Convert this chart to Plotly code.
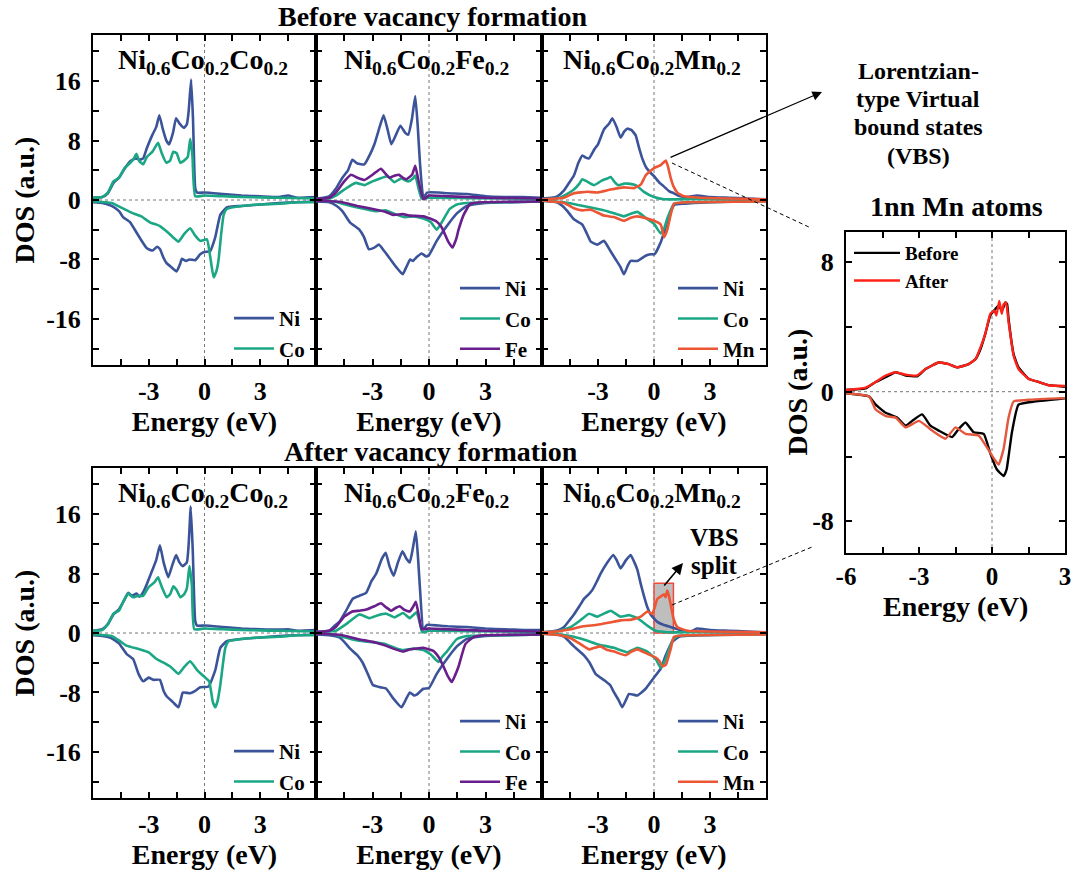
import plotly.graph_objects as go

W, H = 1076, 872
FONT = "Liberation Serif"

# ---------------- tick definitions ----------------
ENERGY_TICKS = [-3, 0, 3]
ENERGY_TICK_TEXT = ["-3", "0", "3"]
ENERGY_MINOR = [-4.5, -1.5, 1.5, 4.5]
DOS_TICKS = [-16, -8, 0, 8, 16]
DOS_TICK_TEXT = ["-16", "-8", "0", "8", "16"]
DOS_MINOR = [-20, -12, -4, 4, 12, 20]
INSET_E_TICKS = [-6, -3, 0, 3]
INSET_E_TEXT = ["-6", "-3", "0", "3"]
INSET_E_MINOR = [-4.5, -1.5, 1.5]
INSET_DOS_TICKS = [-8, 0, 8]
INSET_DOS_TEXT = ["-8", "0", "8"]
INSET_DOS_MINOR = [-4, 4]

COLORS = {"Ni": "#3B5499", "Co": "#1BA784", "Fe": "#6A1E8C", "Mn": "#EC5634"}

# ---------------- projected DOS, (energy eV, DOS) ----------------
# Before vacancy formation: Ni0.6Co0.2Co0.2
B1_NI_UP = [(-6, 0.3), (-5.5, 0.4), (-5.2, 0.9), (-4.9, 2.3), (-4.6, 3.0), (-4.3, 4.2), (-4.0, 5.2), (-3.7, 5.6),
            (-3.5, 5.4), (-3.3, 5.6), (-3.1, 7.0), (-2.8, 8.8), (-2.6, 9.8), (-2.43, 11.4), (-2.25, 9.6), (-2.05, 8.0),
            (-1.9, 7.5), (-1.7, 9.0), (-1.53, 11.0), (-1.35, 10.3), (-1.1, 9.7), (-0.95, 10.2), (-0.85, 12.0),
            (-0.72, 16.2), (-0.62, 11.0), (-0.5, 1.6), (-0.4, 1.0), (0, 1.0), (1, 0.8), (2, 0.6), (3, 0.5), (4, 0.4),
            (4.5, 0.6), (5, 0.3), (6, 0.4)]
B1_CO_UP = [(-6, 0.3), (-5.5, 0.4), (-5.2, 1.0), (-4.9, 2.5), (-4.6, 3.0), (-4.3, 4.3), (-4.0, 5.0), (-3.8, 5.6),
            (-3.66, 6.2), (-3.5, 5.2), (-3.3, 4.8), (-3.1, 5.8), (-2.8, 6.5), (-2.5, 7.7), (-2.3, 6.3), (-2.05, 5.0),
            (-1.85, 5.3), (-1.68, 6.5), (-1.5, 6.3), (-1.3, 5.0), (-1.1, 5.3), (-0.9, 5.8), (-0.77, 8.2), (-0.65, 6.0),
            (-0.5, 0.5), (0, 0.6), (1, 0.5), (2, 0.4), (3, 0.35), (4, 0.3), (6, 0.2)]
B1_NI_DN = [(-6, -0.3), (-5.5, -0.4), (-5, -0.8), (-4.6, -1.5), (-4.38, -2.3), (-4.0, -3.0), (-3.7, -4.2),
            (-3.48, -5.1), (-3.1, -6.5), (-2.8, -6.8), (-2.55, -6.3), (-2.4, -6.6), (-2.2, -7.8), (-2.04, -8.5),
            (-1.8, -9.0), (-1.5, -9.6), (-1.3, -8.5), (-1.22, -7.9), (-1.0, -8.2), (-0.8, -8.0), (-0.5, -8.1),
            (-0.23, -7.3), (0, -7.0), (0.3, -6.9), (0.58, -5.0), (0.85, -2.0), (1.2, -1.0), (2, -0.8), (3, -0.6),
            (4, -0.4), (5, -0.3), (6, -0.2)]
B1_CO_DN = [(-6, -0.2), (-5, -0.4), (-4.5, -1.0), (-3.84, -1.8), (-3.4, -2.2), (-2.94, -3.0), (-2.6, -3.3),
            (-2.4, -3.5), (-2.0, -4.3), (-1.7, -5.0), (-1.4, -5.6), (-1.1, -4.6), (-0.77, -3.8), (-0.5, -4.8),
            (-0.23, -5.5), (0.13, -5.3), (0.3, -7.5), (0.49, -10.4), (0.65, -9.5), (0.76, -8.0), (0.9, -4.5),
            (1.03, -2.0), (1.2, -1.2), (2, -0.8), (3, -0.6), (4, -0.5), (5, -0.3), (6, -0.3)]

# Before vacancy formation: Ni0.6Co0.2Fe0.2
B2_NI_UP = [(-6, 0.2), (-5.6, 0.3), (-5.3, 0.5), (-4.95, 1.5), (-4.6, 3.0), (-4.3, 4.0), (-4.07, 5.4), (-3.8, 4.9),
            (-3.43, 4.8), (-3.1, 6.3), (-2.9, 7.5), (-2.6, 10.0), (-2.41, 11.4), (-2.2, 9.5), (-2.0, 7.5),
            (-1.75, 8.8), (-1.52, 10.0), (-1.25, 9.0), (-1.1, 8.8), (-0.9, 11.0), (-0.73, 14.0), (-0.6, 10.0),
            (-0.48, 5.0), (-0.3, 0.3), (-0.1, 1.0), (0.5, 1.0), (1, 0.9), (2, 0.8), (3, 0.5), (4, 0.4), (5, 0.4),
            (6, 0.3)]
B2_CO_UP = [(-6, 0.1), (-5.3, 0.2), (-4.95, 0.6), (-4.5, 1.4), (-3.9, 2.3), (-3.43, 2.0), (-3.0, 2.5), (-2.6, 2.9),
            (-2.2, 3.2), (-1.84, 2.4), (-1.48, 2.9), (-1.1, 2.5), (-0.85, 2.9), (-0.73, 3.3), (-0.55, 1.5),
            (-0.39, 0.2), (0, 0.3), (2, 0.25), (6, 0.15)]
B2_FE_UP = [(-6, 0.1), (-5.3, 0.3), (-4.95, 1.0), (-4.5, 2.5), (-4.14, 3.4), (-3.8, 3.0), (-3.43, 2.7), (-3.0, 3.4),
            (-2.55, 4.2), (-2.3, 3.5), (-2.1, 3.0), (-1.8, 3.3), (-1.6, 3.4), (-1.4, 3.0), (-1.2, 2.8), (-0.9, 3.4),
            (-0.73, 4.6), (-0.55, 2.5), (-0.3, 0.1), (0, 0.6), (1, 0.5), (2, 0.4), (3, 0.3), (6, 0.2)]
B2_NI_DN = [(-6, -0.2), (-5.3, -0.3), (-4.9, -0.8), (-4.6, -1.5), (-4.2, -3.0), (-3.7, -4.0), (-3.45, -5.0),
            (-3.2, -6.6), (-2.9, -6.4), (-2.66, -6.0), (-2.4, -6.8), (-2.1, -7.8), (-1.75, -9.0), (-1.4, -10.0),
            (-1.2, -9.0), (-1.0, -8.0), (-0.85, -8.2), (-0.7, -7.8), (-0.39, -7.2), (-0.15, -7.6), (0, -7.4),
            (0.41, -5.5), (0.95, -3.5), (1.48, -1.8), (2.0, -0.8), (3, -0.4), (4, -0.3), (6, -0.2)]
B2_CO_DN = [(-6, -0.1), (-5, -0.2), (-4.6, -0.5), (-3.8, -1.0), (-2.8, -1.5), (-2.27, -1.4), (-1.8, -1.9),
            (-1.3, -2.3), (-0.8, -2.2), (-0.3, -2.5), (0.1, -3.0), (0.41, -4.0), (0.68, -3.0), (1.1, -1.2),
            (1.48, -0.6), (2, -0.4), (4, -0.3), (6, -0.2)]
B2_FE_DN = [(-6, -0.1), (-5, -0.2), (-4.6, -0.3), (-3.8, -0.8), (-2.8, -1.3), (-2.3, -1.6), (-1.9, -2.0),
            (-1.4, -1.9), (-1.0, -2.1), (-0.3, -2.2), (0.05, -2.5), (0.4, -2.9), (0.68, -3.7), (1.0, -5.5),
            (1.25, -6.4), (1.45, -5.2), (1.57, -4.0), (1.84, -2.0), (2.2, -0.5), (3, -0.3), (6, -0.2)]

# Before vacancy formation: Ni0.6Co0.2Mn0.2
B3_NI_UP = [(-6, 0.2), (-5.5, 0.3), (-5.18, 0.5), (-4.82, 1.3), (-4.5, 2.5), (-4.29, 3.3), (-4.05, 5.0),
            (-3.84, 6.0), (-3.65, 5.7), (-3.48, 5.6), (-3.2, 6.8), (-3.0, 7.5), (-2.68, 9.5), (-2.4, 10.3),
            (-2.23, 11.0), (-2.0, 9.8), (-1.79, 8.4), (-1.6, 9.2), (-1.43, 9.6), (-1.2, 9.4), (-0.98, 8.7),
            (-0.8, 7.0), (-0.63, 5.6), (-0.4, 4.3), (-0.2, 3.7), (0, 3.2), (0.3, 2.3), (0.54, 1.8), (0.8, 1.2),
            (1.07, 0.9), (1.4, 0.5), (1.79, 0.4), (2.3, 0.6), (3, 0.4), (4, 0.3), (5, 0.2), (6, 0.1)]
B3_CO_UP = [(-6, 0.1), (-5.2, 0.2), (-4.82, 0.6), (-4.29, 1.4), (-4.0, 2.2), (-3.84, 2.8), (-3.6, 2.5),
            (-3.21, 2.0), (-2.8, 2.6), (-2.5, 2.9), (-2.32, 3.1), (-2.1, 2.4), (-1.93, 2.0), (-1.6, 2.2),
            (-1.43, 2.2), (-0.98, 2.0), (-0.54, 1.1), (0, 0.4), (0.54, 0.1), (2, 0.1), (6, 0.1)]
B3_MN_UP = [(-6, 0.1), (-5.2, 0.2), (-4.82, 0.3), (-4.29, 0.9), (-3.57, 1.1), (-3.04, 1.0), (-2.32, 1.4),
            (-1.61, 1.7), (-1.07, 1.6), (-0.7, 2.1), (-0.45, 3.3), (0, 4.3), (0.36, 4.7), (0.63, 5.3), (0.75, 4.5),
            (0.89, 3.0), (1.05, 1.8), (1.25, 1.0), (1.6, 0.5), (2.5, 0.3), (4, 0.2), (6, 0.1)]
B3_NI_DN = [(-6, -0.1), (-5.2, -0.3), (-4.9, -0.8), (-4.64, -1.5), (-4.29, -2.6), (-3.84, -3.3), (-3.6, -4.5),
            (-3.39, -5.6), (-3.04, -6.0), (-2.68, -5.5), (-2.35, -6.8), (-2.05, -8.0), (-1.8, -9.0), (-1.61, -10.0),
            (-1.4, -8.8), (-1.25, -8.2), (-0.89, -8.2), (-0.45, -7.5), (-0.18, -7.3), (0.03, -7.3), (0.36, -5.7),
            (0.71, -3.0), (1.07, -0.7), (1.6, -0.5), (3, -0.3), (6, -0.1)]
B3_CO_DN = [(-6, -0.1), (-4.82, -0.3), (-4.2, -0.6), (-3.39, -1.0), (-2.5, -1.5), (-2.0, -1.9), (-1.61, -2.2),
            (-1.3, -1.9), (-0.89, -1.6), (-0.45, -2.4), (0, -3.2), (0.36, -4.5), (0.55, -3.8), (0.71, -2.5),
            (1.07, -0.5), (2, -0.3), (6, -0.2)]
B3_MN_DN = [(-6, -0.1), (-4.82, -0.4), (-4.29, -1.1), (-3.84, -1.4), (-3.39, -1.3), (-2.68, -2.1), (-2.14, -2.3),
            (-1.61, -2.8), (-1.25, -2.4), (-0.89, -2.2), (-0.36, -2.5), (0, -2.8), (0.36, -3.3), (0.54, -5.0),
            (0.71, -4.0), (0.89, -2.0), (1.07, -0.5), (2, -0.3), (6, -0.2)]

# After vacancy formation: Ni0.6Co0.2Co0.2
A1_NI_UP = [(-6, 0.3), (-5.5, 0.5), (-5.2, 1.2), (-4.9, 2.5), (-4.6, 3.2), (-4.3, 4.5), (-4.1, 5.4), (-3.9, 5.0),
            (-3.66, 5.3), (-3.5, 4.9), (-3.3, 5.5), (-3.1, 6.6), (-2.8, 8.5), (-2.6, 9.8), (-2.4, 11.8), (-2.2, 9.5),
            (-1.95, 7.5), (-1.75, 9.0), (-1.53, 10.5), (-1.35, 9.5), (-1.17, 9.0), (-0.95, 9.5), (-0.85, 12.0),
            (-0.74, 17.0), (-0.63, 11.0), (-0.5, 1.6), (-0.4, 1.0), (0, 1.0), (1, 0.8), (2, 0.6), (3, 0.5),
            (4, 0.45), (4.5, 0.5), (5, 0.3), (6, 0.4)]
A1_CO_UP = [(-6, 0.3), (-5.5, 0.4), (-5.2, 1.2), (-4.9, 2.6), (-4.6, 3.0), (-4.3, 4.6), (-4.1, 5.3), (-3.85, 4.8),
            (-3.6, 5.0), (-3.3, 5.0), (-3.0, 6.2), (-2.7, 6.8), (-2.5, 7.5), (-2.3, 6.2), (-2.04, 4.8), (-1.85, 5.2),
            (-1.68, 6.3), (-1.5, 5.8), (-1.3, 4.8), (-1.1, 5.2), (-0.95, 6.0), (-0.81, 9.0), (-0.68, 6.5),
            (-0.55, 0.5), (0, 0.6), (1, 0.5), (2, 0.4), (3, 0.35), (4, 0.3), (6, 0.2)]
A1_NI_DN = [(-6, -0.3), (-5.5, -0.4), (-5, -0.7), (-4.6, -1.4), (-4.2, -2.8), (-3.84, -3.5), (-3.55, -5.5),
            (-3.3, -6.5), (-3.0, -6.0), (-2.76, -6.3), (-2.4, -6.3), (-2.2, -7.8), (-2.04, -8.5), (-1.7, -9.3),
            (-1.4, -10.0), (-1.25, -8.7), (-1.17, -8.0), (-0.77, -8.1), (-0.5, -7.8), (-0.23, -7.3), (0.22, -7.2),
            (0.58, -5.0), (0.85, -2.0), (1.2, -1.1), (2, -0.8), (3, -0.6), (4, -0.4), (5, -0.3), (6, -0.2)]
A1_CO_DN = [(-6, -0.2), (-5, -0.4), (-4.6, -1.0), (-4.2, -1.7), (-3.48, -2.2), (-3.0, -2.6), (-2.58, -3.5),
            (-2.2, -4.0), (-1.8, -4.6), (-1.4, -5.5), (-1.1, -4.6), (-0.77, -3.8), (-0.4, -5.0), (-0.05, -5.8),
            (0.25, -6.5), (0.45, -9.3), (0.58, -10.0), (0.7, -9.2), (0.85, -7.0), (1.0, -4.0), (1.12, -2.0),
            (1.3, -1.1), (2, -0.8), (3, -0.6), (4, -0.5), (5, -0.3), (6, -0.3)]

# After vacancy formation: Ni0.6Co0.2Fe0.2
A2_NI_UP = [(-6, 0.2), (-5.6, 0.2), (-5.3, 0.3), (-5.0, 1.0), (-4.76, 1.5), (-4.4, 3.0), (-4.05, 4.6), (-3.7, 5.0),
            (-3.34, 5.4), (-3.05, 7.0), (-2.8, 8.0), (-2.5, 10.0), (-2.3, 10.8), (-2.1, 9.0), (-1.88, 7.7),
            (-1.65, 9.5), (-1.41, 11.0), (-1.2, 10.0), (-1.02, 9.5), (-0.85, 11.5), (-0.7, 13.7), (-0.58, 10.0),
            (-0.48, 6.0), (-0.3, 0.5), (-0.1, 1.1), (0.5, 1.0), (1, 0.9), (2, 0.8), (3, 0.6), (4, 0.5), (5, 0.4),
            (6, 0.4)]
A2_CO_UP = [(-6, 0.1), (-5.3, 0.2), (-4.95, 0.3), (-4.4, 1.2), (-3.7, 2.5), (-3.16, 2.0), (-2.7, 2.4), (-2.27, 2.6),
            (-1.82, 2.1), (-1.38, 2.7), (-1.02, 2.0), (-0.8, 2.5), (-0.66, 2.8), (-0.5, 1.5), (-0.36, 0.1),
            (0, 0.3), (2, 0.25), (6, 0.15)]
A2_FE_UP = [(-6, 0.1), (-5.3, 0.3), (-4.95, 0.8), (-4.5, 2.2), (-4.07, 2.9), (-3.7, 3.0), (-3.27, 3.2), (-2.9, 3.6),
            (-2.55, 4.0), (-2.3, 3.5), (-2.0, 3.0), (-1.75, 3.4), (-1.55, 3.6), (-1.3, 3.1), (-1.02, 2.9),
            (-0.85, 3.5), (-0.7, 4.2), (-0.55, 2.5), (-0.39, 0.5), (0, 0.6), (1, 0.5), (2, 0.4), (3, 0.3), (6, 0.2)]
A2_NI_DN = [(-6, -0.2), (-5.3, -0.3), (-4.76, -0.6), (-4.5, -1.2), (-4.23, -2.0), (-3.8, -3.0), (-3.52, -4.0),
            (-3.25, -5.5), (-2.98, -7.0), (-2.6, -7.3), (-2.27, -7.5), (-1.9, -8.8), (-1.46, -10.0), (-1.2, -8.8),
            (-1.02, -8.0), (-0.8, -8.4), (-0.66, -8.3), (-0.3, -7.5), (0, -7.4), (0.41, -5.5), (0.95, -3.5),
            (1.48, -1.8), (2.0, -0.8), (3, -0.4), (4, -0.3), (6, -0.2)]
A2_CO_DN = [(-6, -0.1), (-5, -0.2), (-4.6, -0.5), (-3.8, -1.0), (-2.8, -1.3), (-2.3, -1.5), (-1.8, -2.0),
            (-1.38, -2.3), (-0.8, -2.1), (-0.3, -2.3), (0.1, -2.9), (0.5, -3.9), (0.7, -3.2), (0.95, -2.5),
            (1.48, -0.8), (2, -0.4), (4, -0.3), (6, -0.2)]
A2_FE_DN = [(-6, -0.1), (-5, -0.2), (-4.6, -0.3), (-3.8, -0.8), (-2.8, -1.3), (-2.3, -1.7), (-1.9, -2.1),
            (-1.38, -2.5), (-1.0, -2.2), (-0.3, -2.0), (0.23, -2.4), (0.5, -3.2), (0.77, -4.5), (1.0, -5.8),
            (1.21, -6.6), (1.4, -5.6), (1.57, -4.5), (1.93, -1.5), (2.39, -0.5), (3, -0.3), (6, -0.2)]

# After vacancy formation: Ni0.6Co0.2Mn0.2
A3_NI_UP = [(-6, 0.1), (-5.5, 0.2), (-5.1, 0.4), (-4.82, 0.8), (-4.5, 1.8), (-4.29, 2.5), (-4.0, 3.6),
            (-3.75, 4.6), (-3.5, 5.2), (-3.3, 5.8), (-3.05, 7.0), (-2.86, 8.0), (-2.5, 9.5), (-2.18, 10.5),
            (-2.0, 9.8), (-1.79, 8.7), (-1.5, 9.8), (-1.25, 10.5), (-1.05, 9.5), (-0.89, 8.5), (-0.7, 6.5),
            (-0.54, 5.0), (-0.36, 3.5), (-0.18, 2.5), (0.18, 1.5), (0.5, 1.1), (0.89, 0.8), (1.4, 0.4),
            (1.96, 0.2), (2.3, 0.6), (3, 0.4), (4, 0.3), (5, 0.2), (6, 0.1)]
A3_CO_UP = [(-6, 0.1), (-5.2, 0.2), (-4.46, 0.8), (-4.0, 1.6), (-3.48, 2.6), (-3.04, 2.2), (-2.6, 2.7),
            (-2.32, 3.0), (-2.0, 2.5), (-1.79, 2.2), (-1.34, 2.4), (-0.89, 2.0), (-0.36, 1.0), (0.09, 0.3),
            (0.71, 0.1), (2, 0.1), (6, 0.1)]
A3_MN_UP = [(-6, 0.1), (-5.2, 0.2), (-4.46, 0.5), (-3.8, 0.9), (-3.04, 1.1), (-2.4, 1.4), (-1.79, 1.7),
            (-1.2, 1.8), (-0.71, 2.2), (-0.36, 2.9), (-0.09, 2.6), (0.18, 4.6), (0.35, 4.9), (0.54, 5.2),
            (0.62, 4.8), (0.71, 5.7), (0.8, 5.0), (0.89, 3.9), (1.04, 2.0), (1.25, 0.8), (1.79, 0.3), (3, 0.2),
            (6, 0.1)]
A3_NI_DN = [(-6, -0.1), (-5.2, -0.2), (-4.82, -0.5), (-4.29, -1.8), (-3.75, -3.0), (-3.45, -4.0), (-3.13, -5.5),
            (-2.59, -6.5), (-2.35, -7.0), (-2.14, -8.0), (-1.9, -9.0), (-1.7, -10.0), (-1.5, -9.0), (-1.34, -8.2),
            (-1.1, -8.3), (-0.89, -8.4), (-0.45, -7.5), (0, -6.0), (0.36, -4.8), (0.63, -3.0), (0.98, -1.2),
            (1.34, -0.5), (2.5, -0.3), (6, -0.1)]
A3_CO_DN = [(-6, -0.1), (-5, -0.2), (-4.29, -0.5), (-3.6, -1.0), (-3.04, -1.5), (-2.14, -2.0), (-1.8, -2.3),
            (-1.43, -2.6), (-0.89, -2.0), (-0.36, -2.5), (0.09, -3.5), (0.36, -4.7), (0.63, -3.5), (0.98, -1.0),
            (1.25, -0.4), (2, -0.3), (6, -0.2)]
A3_MN_DN = [(-6, -0.1), (-5, -0.3), (-4.46, -0.7), (-3.93, -1.5), (-3.48, -2.2), (-3.2, -2.0), (-2.86, -1.8),
            (-2.5, -2.3), (-2.14, -2.5), (-1.52, -3.0), (-1.2, -2.5), (-0.89, -2.2), (-0.36, -2.8), (0.09, -3.3),
            (0.3, -3.8), (0.45, -4.5), (0.63, -4.3), (0.89, -2.2), (1.07, -0.5), (2, -0.3), (6, -0.2)]

# 1nn Mn atoms, before / after
MN1_BEFORE_UP = [(-6, 0.1), (-5.2, 0.2), (-4.78, 0.6), (-4.37, 0.9), (-3.96, 1.2), (-3.55, 1.0), (-3.07, 0.95),
                 (-2.73, 1.4), (-2.19, 1.8), (-1.78, 1.7), (-1.43, 1.5), (-0.96, 1.7), (-0.68, 2.0), (-0.48, 2.6),
                 (-0.27, 3.6), (-0.07, 4.7), (0.14, 5.1), (0.27, 5.3), (0.41, 5.0), (0.55, 5.5), (0.62, 5.4),
                 (0.68, 4.5), (0.89, 2.3), (1.09, 1.5), (1.5, 0.8), (1.91, 0.6), (2.32, 0.4), (3, 0.3)]
MN1_AFTER_UP = [(-6, 0.1), (-5.2, 0.25), (-4.78, 0.6), (-4.37, 1.0), (-3.96, 1.2), (-3.55, 1.05), (-3.07, 1.0),
                (-2.73, 1.4), (-2.19, 1.8), (-1.78, 1.7), (-1.43, 1.5), (-0.96, 1.7), (-0.68, 2.0), (-0.48, 2.7),
                (-0.27, 3.6), (-0.07, 4.8), (0.1, 5.0), (0.18, 4.7), (0.3, 5.6), (0.4, 4.8), (0.48, 5.4),
                (0.58, 5.5), (0.68, 4.3), (0.89, 2.2), (1.09, 1.4), (1.5, 0.8), (1.91, 0.6), (2.32, 0.4), (3, 0.35)]
MN1_BEFORE_DN = [(-6, -0.1), (-5.05, -0.3), (-4.78, -0.8), (-4.37, -1.3), (-3.89, -1.6), (-3.55, -2.1),
                 (-3.28, -1.8), (-2.87, -1.4), (-2.53, -2.1), (-2.19, -2.4), (-1.64, -2.8), (-1.37, -2.3),
                 (-1.09, -1.9), (-0.75, -2.5), (-0.34, -2.6), (-0.07, -3.8), (0.2, -4.8), (0.48, -5.2),
                 (0.6, -4.8), (0.68, -4.0), (0.82, -2.5), (1.09, -0.8), (1.78, -0.6), (3, -0.4)]
MN1_AFTER_DN = [(-6, -0.1), (-5.05, -0.3), (-4.78, -1.1), (-4.37, -1.5), (-3.96, -1.6), (-3.55, -2.2),
                (-3.0, -1.8), (-2.46, -2.4), (-1.91, -2.9), (-1.5, -2.2), (-1.09, -2.6), (-0.55, -2.7),
                (-0.14, -3.6), (0.27, -4.5), (0.48, -3.5), (0.68, -1.6), (0.89, -0.6), (1.5, -0.5), (3, -0.4)]

# VBS region highlighted in the after-vacancy Mn panel (eV, DOS)
VBS_BOX_E = [0.0, 1.04]
VBS_BOX_DOS = [0.0, 6.7]

PANEL_TITLES = ["Ni<sub>0.6</sub>Co<sub>0.2</sub>Co<sub>0.2</sub>",
                "Ni<sub>0.6</sub>Co<sub>0.2</sub>Fe<sub>0.2</sub>",
                "Ni<sub>0.6</sub>Co<sub>0.2</sub>Mn<sub>0.2</sub>"]

PANELS = [
    [("Ni", B1_NI_UP, B1_NI_DN), ("Co", B1_CO_UP, B1_CO_DN)],
    [("Ni", B2_NI_UP, B2_NI_DN), ("Co", B2_CO_UP, B2_CO_DN), ("Fe", B2_FE_UP, B2_FE_DN)],
    [("Ni", B3_NI_UP, B3_NI_DN), ("Co", B3_CO_UP, B3_CO_DN), ("Mn", B3_MN_UP, B3_MN_DN)],
    [("Ni", A1_NI_UP, A1_NI_DN), ("Co", A1_CO_UP, A1_CO_DN)],
    [("Ni", A2_NI_UP, A2_NI_DN), ("Co", A2_CO_UP, A2_CO_DN), ("Fe", A2_FE_UP, A2_FE_DN)],
    [("Ni", A3_NI_UP, A3_NI_DN), ("Co", A3_CO_UP, A3_CO_DN), ("Mn", A3_MN_UP, A3_MN_DN)],
]

# ---------------- layout geometry (pixels) ----------------
COLS = [(93, 316), (316, 542), (542, 766)]
ROWS = [(35, 365), (468, 798)]
INSET = (846, 1065, 232, 553)


def fx(p):
    return p / W


def fy(p):
    return 1 - p / H


def bold(size, color="black"):
    return dict(family=FONT, size=size, color=color, weight="bold")


def minor_ticks(vals):
    return dict(tickvals=vals, ticks="inside", ticklen=6, tickwidth=2, tickcolor="black", showgrid=False)


fig = go.Figure()
layout = dict(width=W, height=H, margin=dict(l=0, r=0, t=0, b=0, autoexpand=False),
              paper_bgcolor="white", plot_bgcolor="white",
              font=bold(21), showlegend=True)
shapes, annotations = [], []

axis_common = dict(showline=True, linecolor="black", linewidth=2, mirror="ticks", ticks="inside",
                   ticklen=6, tickwidth=2, tickcolor="black", showgrid=False, zeroline=False,
                   tickfont=bold(26), fixedrange=True, automargin=False)
LINE_SHAPE = dict(shape="spline", smoothing=0.4)

for i, curves in enumerate(PANELS):
    k = i + 1
    sfx = "" if k == 1 else str(k)
    row, col = divmod(i, 3)
    x0, x1 = COLS[col]
    y0, y1 = ROWS[row]
    layout["xaxis" + sfx] = dict(axis_common, domain=[fx(x0), fx(x1)], anchor="y" + sfx, range=[-6, 6],
                                 tickvals=ENERGY_TICKS, ticktext=ENERGY_TICK_TEXT,
                                 minor=minor_ticks(ENERGY_MINOR), ticklabelstandoff=2,
                                 title=dict(text="Energy (eV)", font=bold(28), standoff=2))
    ycfg = dict(axis_common, domain=[fy(y1), fy(y0)], anchor="x" + sfx, range=[-22.2, 22.2],
                tickvals=DOS_TICKS, ticktext=DOS_TICK_TEXT, minor=minor_ticks(DOS_MINOR))
    if col == 0:
        ycfg.update(title=dict(text="DOS (a.u.)", font=bold(28), standoff=3), ticklabelstandoff=5)
    else:
        ycfg.update(showticklabels=False)
    layout["yaxis" + sfx] = ycfg

    lname = "legend" + sfx
    for el, up, dn in curves:
        for pts, show in ((up, True), (dn, False)):
            fig.add_trace(go.Scatter(
                x=[p[0] for p in pts], y=[p[1] for p in pts], mode="lines", name=el,
                line=dict(color=COLORS[el], width=2.6, **LINE_SHAPE), xaxis="x" + sfx, yaxis="y" + sfx,
                legend=lname, legendgroup=f"{k}{el}", showlegend=show, hoverinfo="skip"))
    layout[lname] = dict(x=fx(x1 - 6), y=fy(y1 + 4), xanchor="right", yanchor="bottom",
                         bgcolor="rgba(0,0,0,0)", font=bold(21), itemwidth=40, tracegroupgap=0,
                         traceorder="grouped")

    # dotted zero lines
    shapes.append(dict(type="line", xref="x" + sfx, yref=f"y{sfx} domain", x0=0, x1=0, y0=0, y1=1,
                       line=dict(color="#777", width=1, dash="dot"), layer="below"))
    shapes.append(dict(type="line", xref=f"x{sfx} domain", yref="y" + sfx, x0=0, x1=1, y0=0, y1=0,
                       line=dict(color="#777", width=1, dash="dot"), layer="below"))

    annotations.append(dict(text=PANEL_TITLES[col], xref="paper", yref="paper",
                            x=fx((x0 + x1) / 2 - 2), y=fy(y0 + 27), xanchor="center", yanchor="middle",
                            showarrow=False, font=bold(28)))

# ---------------- 1nn Mn inset ----------------
ix0, ix1, iy0, iy1 = INSET
layout["xaxis7"] = dict(axis_common, domain=[fx(ix0), fx(ix1)], anchor="y7", range=[-6, 3],
                        tickvals=INSET_E_TICKS, ticktext=INSET_E_TEXT, minor=minor_ticks(INSET_E_MINOR),
                        ticklabelstandoff=0, tickfont=bold(25))
layout["yaxis7"] = dict(axis_common, domain=[fy(iy1), fy(iy0)], anchor="x7", range=[-9.95, 9.85],
                        tickvals=INSET_DOS_TICKS, ticktext=INSET_DOS_TEXT, minor=minor_ticks(INSET_DOS_MINOR),
                        ticklabelstandoff=5)
annotations.append(dict(text="Energy (eV)", x=fx((ix0 + ix1) / 2), y=fy(606), xref="paper", yref="paper",
                        showarrow=False, font=bold(28), xanchor="center", yanchor="middle"))
annotations.append(dict(text="DOS (a.u.)", x=fx(797), y=fy((iy0 + iy1) / 2), xref="paper", yref="paper",
                        showarrow=False, font=bold(28), xanchor="center", yanchor="middle", textangle=-90))
INSET_SERIES = [("Before", "#000000", MN1_BEFORE_UP, True), ("After", "#FF2218", MN1_AFTER_UP, True),
                ("Before", "#000000", MN1_BEFORE_DN, False), ("After", "#E4573D", MN1_AFTER_DN, False)]
for name, color, pts, show in INSET_SERIES:
    fig.add_trace(go.Scatter(x=[p[0] for p in pts], y=[p[1] for p in pts], mode="lines", name=name,
                             line=dict(color=color, width=2.4, **LINE_SHAPE), xaxis="x7", yaxis="y7",
                             legend="legend7", legendgroup="in" + name, showlegend=show, hoverinfo="skip"))
layout["legend7"] = dict(x=fx(849), y=fy(234), xanchor="left", yanchor="top", bgcolor="rgba(0,0,0,0)",
                         font=bold(19), itemwidth=46, tracegroupgap=0, traceorder="grouped")
shapes.append(dict(type="line", xref="x7", yref="y7 domain", x0=0, x1=0, y0=0, y1=1,
                   line=dict(color="#777", width=1, dash="dot"), layer="below"))
shapes.append(dict(type="line", xref="x7 domain", yref="y7", x0=0, x1=1, y0=0, y1=0,
                   line=dict(color="#777", width=1, dash="dot"), layer="below"))

# highlighted VBS window
shapes.append(dict(type="rect", xref="x6", yref="y6", x0=VBS_BOX_E[0], x1=VBS_BOX_E[1],
                   y0=VBS_BOX_DOS[0], y1=VBS_BOX_DOS[1], fillcolor="#BEBEBE",
                   line=dict(color="#F04A3A", width=1.5), layer="below"))

# connector lines toward the inset
shapes.append(dict(type="line", xref="paper", yref="paper", x0=fx(672), y0=fy(163), x1=fx(811), y1=fy(228),
                   line=dict(color="black", width=1, dash="4px,3px")))
shapes.append(dict(type="line", xref="paper", yref="paper", x0=fx(672), y0=fy(605), x1=fx(812), y1=fy(547),
                   line=dict(color="black", width=1, dash="4px,3px")))

# ---------------- text and arrows ----------------
annotations += [
    dict(text="Before vacancy formation", x=fx(432), y=fy(17), xref="paper", yref="paper",
         showarrow=False, font=bold(28), xanchor="center", yanchor="middle"),
    dict(text="After vacancy formation", x=fx(431), y=fy(451), xref="paper", yref="paper",
         showarrow=False, font=bold(28), xanchor="center", yanchor="middle"),
    dict(text="1nn Mn atoms", x=fx(956), y=fy(207), xref="paper", yref="paper",
         showarrow=False, font=bold(28), xanchor="center", yanchor="middle"),
    dict(text="VBS", x=fx(715), y=fy(537), xref="paper", yref="paper",
         showarrow=False, font=bold(25), xanchor="center", yanchor="middle"),
    dict(text="split", x=fx(715), y=fy(565), xref="paper", yref="paper",
         showarrow=False, font=bold(25), xanchor="center", yanchor="middle"),
]
for txt, yy in (("Lorentzian-", 71), ("type Virtual", 99), ("bound states", 127), ("(VBS)", 156)):
    annotations.append(dict(text=txt, x=fx(918), y=fy(yy), xref="paper", yref="paper", showarrow=False,
                            font=bold(24), xanchor="center", yanchor="middle"))

# arrow from the Mn virtual-bound-state peak to its label, and the "split" pointer
annotations += [
    dict(x=fx(822), y=fy(92), xref="paper", yref="paper", showarrow=True, text="",
         ax=-153, ay=66, arrowhead=2, arrowsize=1.6, arrowwidth=1.2, arrowcolor="black"),
    dict(x=fx(683), y=fy(563), xref="paper", yref="paper", showarrow=True, text="",
         ax=-20, ay=24, arrowhead=2, arrowsize=1.4, arrowwidth=1.6, arrowcolor="black"),
]

layout["shapes"] = shapes
layout["annotations"] = annotations
fig.update_layout(**layout)

fig.write_html("out.html")
